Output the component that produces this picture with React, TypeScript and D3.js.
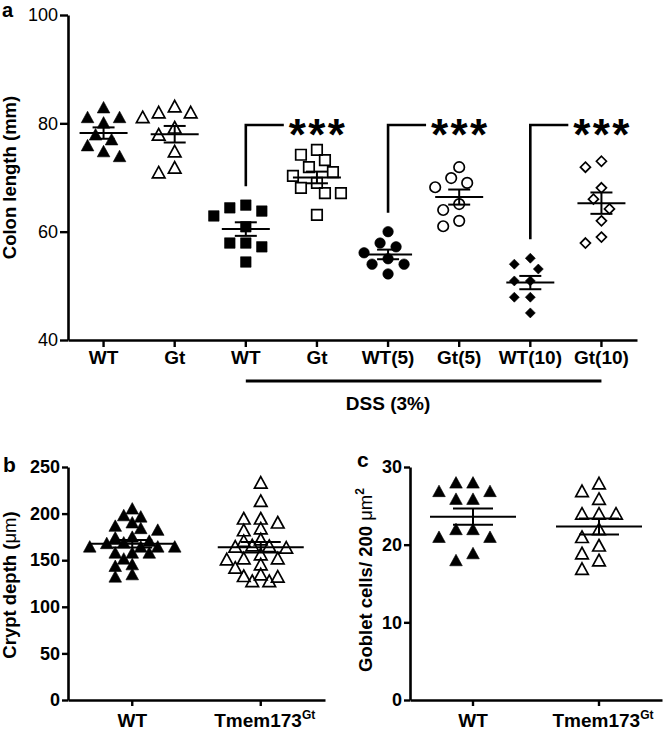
import React, { useEffect, useRef } from "react";
import * as d3 from "d3";

// ---- panel a: colon length (mm) ----
const groupLabels = ["WT", "Gt", "WT", "Gt", "WT(5)", "Gt(5)", "WT(10)", "Gt(10)"];
const wtCtrl = [82.8, 81.0, 81.0, 80.0, 77.8, 76.9, 75.8, 74.7, 73.8];
const gtCtrl = [83.0, 81.9, 81.9, 81.0, 79.1, 77.8, 74.7, 71.7, 70.8];
const wtDss = [64.9, 64.4, 63.8, 62.9, 60.9, 57.9, 57.9, 57.2, 54.4];
const gtDss = [75.1, 74.2, 73.2, 71.9, 71.0, 70.3, 69.0, 68.1, 67.1, 67.1, 63.1];
const wtDss5 = [60.0, 57.9, 57.2, 56.1, 55.0, 54.0, 54.0, 52.2];
const gtDss5 = [71.9, 69.9, 69.0, 68.2, 65.1, 64.0, 62.0, 61.0];
const wtDss10 = [55.1, 54.0, 53.1, 50.9, 50.9, 47.9, 47.9, 45.0];
const gtDss10 = [73.0, 71.9, 68.1, 66.0, 64.2, 62.0, 59.0, 57.9];
const colonGroups = [wtCtrl, gtCtrl, wtDss, gtDss, wtDss5, gtDss5, wtDss10, gtDss10];
const colonTicks = [40, 60, 80, 100];
const sigPairs = [[2, 3], [4, 5], [6, 7]];
const sigLabel = "***";
const dssLabel = "DSS (3%)";

// ---- panel b: crypt depth (um) ----
const cryptWT = [204.6, 197.4, 196.0, 189.7, 186.1, 183.6, 181.8, 174.3, 173.5, 170.0, 168.2, 167.5,
  163.8, 163.8, 163.8, 163.8, 157.3, 157.3, 157.3, 150.9, 144.8, 143.0, 134.1, 131.6];
const cryptGt = [232.5, 212.8, 194.0, 194.0, 189.7, 183.3, 181.4, 171.7, 169.9, 165.2, 164.5, 163.8,
  162.7, 155.5, 151.2, 151.2, 150.2, 144.8, 141.2, 134.1, 132.3, 131.6, 126.9, 126.9];
const cryptTicks = [0, 50, 100, 150, 200, 250];

// ---- panel c: goblet cells ----
const gobletWT = [27.9, 27.9, 26.8, 26.8, 25.8, 25.8, 21.9, 21.9, 20.9, 20.9, 18.8, 17.9];
const gobletGt = [27.8, 26.8, 25.8, 23.9, 23.9, 23.9, 21.9, 20.9, 19.8, 18.8, 17.9, 16.8];
const gobletTicks = [0, 10, 20, 30];

const genotypes = ["WT", "Tmem173"];

const FONT = "'Liberation Sans', Arial, Helvetica, sans-serif";

const markerPath = (shape: string, s: number) => {
  const h = s / 2;
  if (shape === "triangle") return `M0,${-s * 0.56}L${h * 1.05},${s * 0.4}L${-h * 1.05},${s * 0.4}Z`;
  if (shape === "square") return `M${-h},${-h}H${h}V${h}H${-h}Z`;
  if (shape === "diamond") return `M0,${-h}L${h},0L0,${h}L${-h},0Z`;
  return `M${h},0A${h},${h} 0 1,1 ${-h},0A${h},${h} 0 1,1 ${h},0Z`;
};

// greedy swarm: place from top value down, nearest free slot to the centre
function swarm(vals: number[], y: (v: number) => number, step: number, diam: number) {
  const order = vals.map((_, i) => i).sort((a, b) => vals[b] - vals[a]);
  const placed: { x: number; y: number }[] = [];
  const offs = vals.map(() => 0);
  for (const i of order) {
    const py = y(vals[i]);
    for (let k = 0; k < 60; k++) {
      const dx = k === 0 ? 0 : (k % 2 ? -1 : 1) * Math.ceil(k / 2) * step;
      if (placed.every((p) => Math.hypot(p.x - dx, p.y - py) >= diam)) {
        offs[i] = dx;
        placed.push({ x: dx, y: py });
        break;
      }
    }
  }
  return offs;
}

function drawColumn(g: any, vals: number[], cx: number, y: any, o: any) {
  const offs = swarm(vals, y, o.step, o.diam);
  g.append("g")
    .selectAll("path")
    .data(vals)
    .join("path")
    .attr("transform", (d: number, i: number) => `translate(${cx + offs[i]},${y(d)})`)
    .attr("d", markerPath(o.shape, o.size))
    .attr("fill", o.filled ? "#000" : "none")
    .attr("stroke", "#000")
    .attr("stroke-width", o.filled ? 0.6 : 1.7);

  const m = d3.mean(vals) as number;
  const sem = (d3.deviation(vals) as number) / Math.sqrt(vals.length);
  const lines = [
    [cx - o.meanHalf, y(m), cx + o.meanHalf, y(m)],
    [cx, y(m - sem), cx, y(m + sem)],
    [cx - o.capHalf, y(m - sem), cx + o.capHalf, y(m - sem)],
    [cx - o.capHalf, y(m + sem), cx + o.capHalf, y(m + sem)],
  ];
  g.append("g")
    .selectAll("line")
    .data(lines)
    .join("line")
    .attr("x1", (d: number[]) => d[0])
    .attr("y1", (d: number[]) => d[1])
    .attr("x2", (d: number[]) => d[2])
    .attr("y2", (d: number[]) => d[3])
    .attr("stroke", "#000")
    .attr("stroke-width", 2);
}

function styleAxis(ax: any, bold: boolean, size: number) {
  ax.selectAll(".domain").attr("stroke-width", 2.6).attr("stroke", "#000");
  ax.selectAll(".tick line").attr("stroke-width", 2.4).attr("stroke", "#000");
  ax.selectAll(".tick text")
    .attr("font-family", FONT)
    .attr("font-size", size)
    .attr("font-weight", bold ? "bold" : "normal")
    .attr("fill", "#000");
}

const App = () => {
  const ref = useRef<SVGSVGElement>(null);

  useEffect(() => {
    const svg = d3.select(ref.current);
    svg.selectAll("*").remove();
    svg.append("rect").attr("width", 663).attr("height", 730).attr("fill", "#fff");

    // ================= panel a =================
    const xa = d3.scaleBand<number>().domain(d3.range(groupLabels.length)).range([68, 637]);
    const ya = d3.scaleLinear().domain([40, 100]).range([340, 15]);
    const cxA = (i: number) => (xa(i) as number) + xa.bandwidth() / 2;
    const ga = svg.append("g");

    const shapesA = ["triangle", "triangle", "square", "square", "circle", "circle", "diamond", "diamond"];
    const sizesA: any = { triangle: 12, square: 10.5, circle: 10.5, diamond: 10 };
    colonGroups.forEach((vals, i) => {
      drawColumn(ga, vals, cxA(i), ya, {
        shape: shapesA[i], size: sizesA[shapesA[i]], filled: i % 2 === 0,
        step: 8, diam: 13, meanHalf: 24, capHalf: 11,
      });
    });

    const ayA = ga.append("g").attr("transform", "translate(68,0)")
      .call(d3.axisLeft(ya).tickValues(colonTicks).tickSize(8).tickSizeOuter(0).tickPadding(2));
    styleAxis(ayA, false, 18);
    const axA = ga.append("g").attr("transform", "translate(0,340)")
      .call(d3.axisBottom(xa).tickFormat((i: number) => groupLabels[i]).tickSize(7).tickSizeOuter(0).tickPadding(4));
    styleAxis(axA, true, 19);

    // significance brackets
    const yTop = ya(79.7);
    sigPairs.forEach(([a, b]) => {
      const x0 = cxA(a);
      const yb = ya(d3.max(colonGroups[a]) as number) - 19;
      ga.append("path")
        .attr("d", `M${x0},${yb}V${yTop}H${x0 + 38}`)
        .attr("fill", "none").attr("stroke", "#000").attr("stroke-width", 2.6);
      ga.append("text")
        .attr("x", cxA(b) + 1).attr("y", yTop + 25)
        .attr("text-anchor", "middle")
        .attr("font-family", FONT).attr("font-weight", "bold").attr("font-size", 44)
        .attr("letter-spacing", 2.4)
        .text(sigLabel);
    });

    // DSS treatment bar
    ga.append("line")
      .attr("x1", cxA(2)).attr("x2", cxA(7)).attr("y1", 381).attr("y2", 381)
      .attr("stroke", "#000").attr("stroke-width", 3);
    ga.append("text")
      .attr("x", cxA(4)).attr("y", 410).attr("text-anchor", "middle")
      .attr("font-family", FONT).attr("font-weight", "bold").attr("font-size", 19)
      .text(dssLabel);

    ga.append("text")
      .attr("transform", "translate(16,177.5) rotate(-90)")
      .attr("text-anchor", "middle")
      .attr("font-family", FONT).attr("font-weight", "bold").attr("font-size", 18.5)
      .text("Colon length (mm)");
    ga.append("text").attr("x", 2).attr("y", 17)
      .attr("font-family", FONT).attr("font-weight", "bold").attr("font-size", 20).text("a");

    // ================= panels b and c =================
    const small = (
      left: number, right: number, ticksArr: number[], wt: number[], gt: number[],
      letter: string, letterPos: number[], drawLabel: (g: any) => void
    ) => {
      const x = d3.scaleBand<string>().domain(genotypes).range([left, right]);
      const y = d3.scaleLinear().domain([ticksArr[0], ticksArr[ticksArr.length - 1]]).range([700, 467]);
      const cx = (k: string) => (x(k) as number) + x.bandwidth() / 2;
      const g = svg.append("g");
      [wt, gt].forEach((vals, i) => {
        drawColumn(g, vals, cx(genotypes[i]), y, {
          shape: "triangle", size: 12, filled: i === 0,
          step: 8.5, diam: ticksArr.length > 4 ? 9.5 : 12.5, meanHalf: 43, capHalf: 20,
        });
      });
      const ay = g.append("g").attr("transform", `translate(${left},0)`)
        .call(d3.axisLeft(y).tickValues(ticksArr).tickSize(6).tickSizeOuter(0).tickPadding(2));
      styleAxis(ay, true, 18);
      const ax = g.append("g").attr("transform", "translate(0,700)")
        .call(d3.axisBottom(x).tickFormat(() => "").tickSize(6).tickSizeOuter(0));
      styleAxis(ax, true, 18);

      const lab = (k: string) => g.append("text")
        .attr("x", cx(k)).attr("y", 727).attr("text-anchor", "middle")
        .attr("font-family", FONT).attr("font-weight", "bold").attr("font-size", 19);
      lab("WT").text("WT");
      const t = lab("Tmem173").attr("x", cx("Tmem173") + 4);
      t.append("tspan").text("Tmem173");
      t.append("tspan").attr("font-size", 12).attr("dy", -8).text("Gt");

      drawLabel(g);
      g.append("text").attr("x", letterPos[0]).attr("y", letterPos[1])
        .attr("font-family", FONT).attr("font-weight", "bold").attr("font-size", 21).text(letter);
    };

    small(68, 325, cryptTicks, cryptWT, cryptGt, "b", [3, 472], (g) => {
      const t = g.append("text")
        .attr("transform", "translate(16,585) rotate(-90)")
        .attr("text-anchor", "middle")
        .attr("font-family", FONT).attr("font-weight", "bold").attr("font-size", 18.5);
      t.append("tspan").text("Crypt depth (");
      t.append("tspan").attr("font-weight", "normal").text("\u03bcm");
      t.append("tspan").text(")");
    });

    small(410, 662, gobletTicks, gobletWT, gobletGt, "c", [357, 467], (g) => {
      const t = g.append("text")
        .attr("transform", "translate(372,580) rotate(-90)")
        .attr("text-anchor", "middle")
        .attr("font-family", FONT).attr("font-weight", "bold").attr("font-size", 18.5);
      t.append("tspan").text("Goblet cells/ 200 ");
      t.append("tspan").attr("font-weight", "normal").text("\u03bcm");
      t.append("tspan").attr("font-size", 12).attr("dy", -8).text("2");
    });
  }, []);

  return (
    <svg
      ref={ref}
      width={663}
      height={730}
      style={{ position: "absolute", left: 0, top: 0, display: "block" }}
    />
  );
};

export default App;
